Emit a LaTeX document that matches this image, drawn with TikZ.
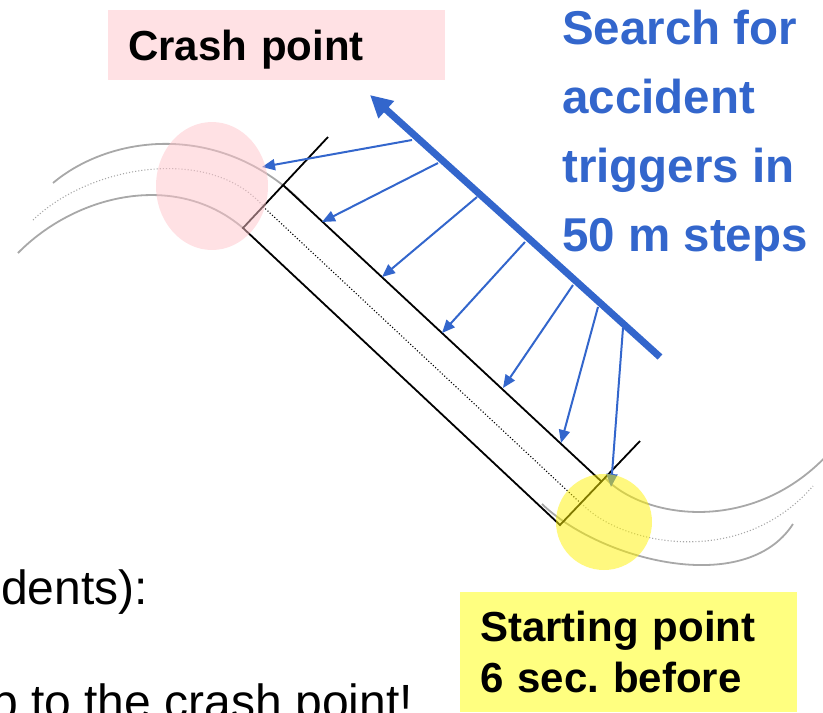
\documentclass[tikz,border=0pt]{standalone}
\usepackage{fontspec}
\setmainfont{Liberation Sans}
\usetikzlibrary{arrows.meta,calc}

\definecolor{trigblue}{RGB}{51,102,204}
\definecolor{crashpink}{RGB}{255,225,228}
\definecolor{ringpink}{RGB}{255,196,202}
\definecolor{startyellow}{RGB}{255,255,128}
\definecolor{roadgray}{RGB}{168,168,168}

\begin{document}
\begin{tikzpicture}[x=1pt,y=-1pt,
  road/.style={draw=roadgray,line width=1.8pt},
  roadmid/.style={draw=roadgray,line width=1.1pt,dotted},
  lane/.style={draw=black,line width=1.8pt},
  trig/.style={draw=trigblue,line width=2pt,-{Triangle[length=13pt,width=11pt]}},
  scan/.style={draw=trigblue,line width=7pt,-{Triangle[length=22pt,width=22pt]}},
  lbl/.style={inner sep=0pt,font=\bfseries\fontsize{42}{51}\selectfont,align=left}]

\clip (0,0) rectangle (823,713);

% road before the crash point
\draw[road] (53,183) .. controls (110,135) and (220,120) .. (303,203);
\draw[roadmid] (33,220) .. controls (90,165) and (210,145) .. (263,206);
\draw[road] (18,253) .. controls (75,195) and (175,170) .. (243,228);

% road after the starting point
\draw[road] (605,478) .. controls (645,520) and (755,535) .. (830,452);
\draw[roadmid] (581,503) .. controls (620,545) and (740,570) .. (813,486);
\draw[road] (542,504) .. controls (600,560) and (745,598) .. (793,524);

% straight piece that is searched
\coordinate (A) at (243,228);
\coordinate (B) at (283,185);
\coordinate (C) at (602,482);
\coordinate (D) at (560,525);
\coordinate (P) at (328,137);
\coordinate (Q) at (640,441);
\draw[lane] (P) -- (A) -- (D) -- (Q);
\draw[lane] (B) -- (C);
\draw[dotted,line width=1.1pt] ($(A)!0.5!(B)$) -- ($(D)!0.5!(C)$);

% trigger arrows
\foreach \i/\sx/\sy/\ex/\ey in {1/412/140/262/167, 2/438/163/322/222,
    3/477/197/382/277, 4/525/242/442/333, 5/573/285/503/388,
    6/598/307/561/443, 7/623/328/611/487} {
  \coordinate (s\i) at (\sx,\sy);
  \coordinate (e\i) at (\ex,\ey);
  \draw[trig] (s\i) -- (e\i);
}

% search direction
\coordinate (tail) at (660,357);
\coordinate (head) at (370,95);
\draw[scan] (tail) -- (head);

% labels
\node[lbl,fill=crashpink,anchor=north west,minimum width=337pt,minimum height=70pt,
  text width=297pt,inner xsep=20pt,text height=30pt,text depth=0pt] (crashlbl)
  at (108,10) {Crash point};
\node[lbl,anchor=north west,text=trigblue,font=\bfseries\fontsize{47.5}{69}\selectfont] (searchlbl)
  at (562,10) {Search for\\accident\\triggers in\\50 m steps};
\node[lbl,fill=startyellow,anchor=north west,minimum width=337pt,minimum height=120pt,
  text width=297pt,inner xsep=20pt] (startlbl)
  at (460,592) {Starting point\\6 sec.\ before};
\node[lbl,anchor=north west,font=\fontsize{48}{57}\selectfont] (notelbl)
  at (-9,570) {\hspace*{10pt}dents):\\[57pt]p to the crash point!};

% crash point and starting point
\fill[ringpink,opacity=0.5] (212,186) ellipse [x radius=56pt,y radius=64pt];
\fill[yellow,opacity=0.5] (604,522) circle [radius=48pt];

\end{tikzpicture}
\end{document}
